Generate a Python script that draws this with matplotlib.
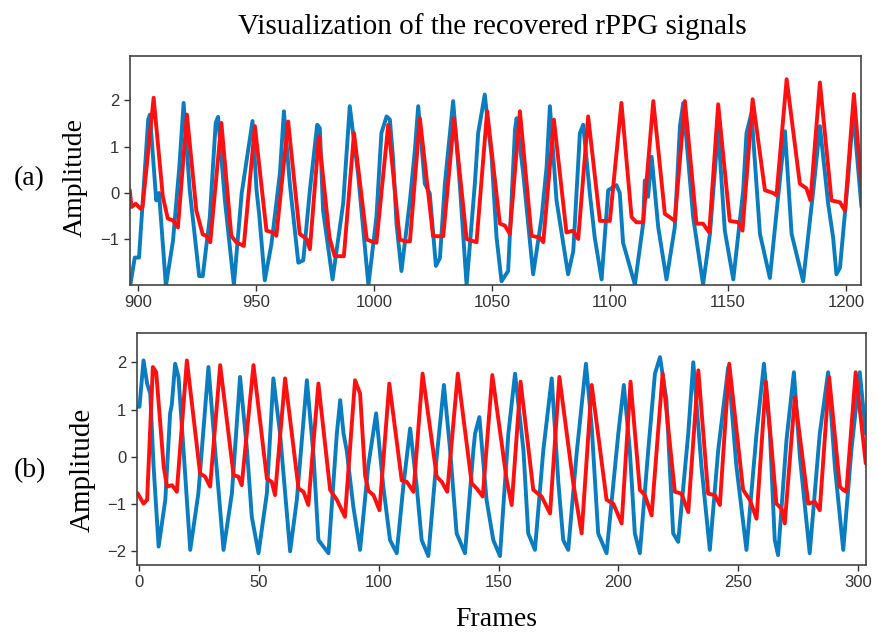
import numpy as np
import matplotlib
matplotlib.use("Agg")
import matplotlib.pyplot as plt

# (a) frames 900-1200 : key points (frame, amplitude)
a_blue_x = [896.6, 898.7, 900.5, 904.4, 905.1, 907.8, 909.0, 911.9, 914.9, 917.6, 919.4, 922.0, 926.0, 927.5,
            930.5, 933.0, 934.0, 936.9, 940.7, 944.0, 948.6, 950.3, 951.4, 953.8, 956.6, 960.2, 961.9, 964.4,
            968.0, 970.1, 972.9, 976.0, 977.1, 978.5, 982.5, 987.0, 989.8, 993.3, 997.7, 1001.1, 1003.2, 1005.4,
            1006.8, 1008.2, 1009.6, 1011.7, 1015.3, 1017.4, 1018.8, 1021.6, 1023.7, 1026.3, 1028.0, 1030.1,
            1033.6, 1036.4, 1039.3, 1042.8, 1044.2, 1047.0, 1049.9, 1052.0, 1054.1, 1056.9, 1059.8, 1060.5,
            1063.3, 1067.5, 1071.1, 1073.2, 1074.6, 1077.4, 1082.3, 1084.5, 1087.3, 1088.7, 1091.5, 1093.6,
            1096.5, 1099.3, 1102.8, 1104.2, 1105.6, 1110.6, 1114.1, 1114.8, 1116.2, 1117.7, 1120.5, 1124.0,
            1127.5, 1129.7, 1131.1, 1135.3, 1139.5, 1142.4, 1145.2, 1145.9, 1148.7, 1152.3, 1156.5, 1157.9,
            1160.0, 1163.6, 1167.8, 1171.3, 1174.2, 1177.0, 1181.9, 1186.2, 1189.0, 1192.5, 1194.6, 1196.0,
            1197.5, 1201.0, 1203.1, 1206.6]
a_blue_y = [-2.05, -1.39, -1.39, 1.58, 1.69, -0.16, 0.0, -2.0, -1.03, 0.57, 1.94, 0.06, -1.79, -1.79,
            -0.52, 1.51, 1.64, -0.16, -1.98, -0.01, 1.55, 0.06, -0.45, -1.88, -1.1, 0.42, 1.76, 0.2,
            -1.5, -1.45, 0.06, 1.47, 1.40, -0.38, -1.86, -0.23, 1.87, 0.42, -1.98, -0.52, 1.29, 1.65,
            1.58, 0.71, -0.66, -1.68, -0.16, 0.93, 1.87, 0.2, -0.01, -1.57, -1.4, 0.2,
            1.98, 0.2, -1.98, 0.2, 1.29, 2.12, 0.78, -0.96, -1.9, -1.68, 1.36, 1.61,
            0.42, -1.75, -0.52, 0.56, 1.87, -0.16, -1.75, -1.25, 1.29, 1.47, 0.0, -0.96,
            -1.86, 0.06, 0.17, 0.0, -1.07, -1.97, -0.66, 0.27, -0.08, 0.78, -0.74, -1.86,
            -0.74, 1.44, 1.94, -0.52, -1.97, -0.88, 0.93, 1.36, -0.81, -1.86, 0.06, 1.29,
            1.72, -0.88, -1.83, -0.08, 1.33, -0.88, -1.9, 0.06, 1.44, -0.23, -0.96, -1.75,
            -1.61, 0.35, 1.76, -0.3]

a_red_x = [896.6, 897.3, 899.1, 901.2, 902.0, 906.7, 910.6, 912.7, 914.9, 917.0, 920.8, 924.8, 927.5, 929.0,
           930.7, 935.4, 939.6, 941.7, 944.9, 949.6, 954.5, 957.3, 958.7, 963.7, 968.6, 971.5, 972.9, 976.7,
           981.2, 983.4, 987.3, 991.6, 997.0, 999.0, 1001.1, 1006.1, 1011.0, 1013.1, 1015.3, 1019.5, 1025.1,
           1029.4, 1034.0, 1039.3, 1043.5, 1048.0, 1053.4, 1055.5, 1057.6, 1061.9, 1066.8, 1070.3, 1071.8,
           1076.3, 1081.6, 1084.4, 1086.6, 1090.8, 1095.8, 1098.6, 1100.0, 1104.9, 1109.2, 1111.3, 1114.1,
           1118.4, 1123.3, 1125.4, 1127.5, 1131.8, 1136.7, 1139.5, 1142.1, 1145.9, 1150.8, 1154.4, 1156.2,
           1160.5, 1165.7, 1169.2, 1170.6, 1174.9, 1180.5, 1183.3, 1185.0, 1189.0, 1193.9, 1197.5, 1199.6,
           1203.4, 1206.6]
a_red_y = [0.06, -0.3, -0.23, -0.34, -0.3, 2.05, -0.08, -0.55, -0.59, -0.74, 1.69, -0.38, -0.89, -0.92,
           -1.06, 1.51, -0.92, -1.06, -1.14, 1.44, -0.81, -0.85, -0.92, 1.54, -0.88, -0.99, -1.21, 1.22,
           -0.96, -1.36, -1.36, 1.29, -1.0, -1.04, -1.07, 1.47, -1.0, -1.04, -1.04, 1.61, -0.93,
           -0.93, 1.61, -0.99, -1.06, 1.76, -0.66, -0.7, -0.88, 1.76, -0.92, -0.96, -1.06,
           1.58, -0.85, -0.81, -0.99, 1.65, -0.6, -0.6, -0.6, 1.94, -0.52, -0.63, -0.63,
           1.98, -0.45, -0.52, -0.6, 1.98, -0.66, -0.66, -0.85, 1.91, -0.6, -0.63, -0.81,
           2.02, 0.06, 0.0, -0.05, 2.45, 0.2, 0.1, -0.16, 2.38, -0.16, -0.2, -0.38,
           2.13, 0.13]

# (b) frames 0-300
b_blue_x = [-0.7, 0.1, 1.8, 3.3, 4.6, 6.0, 8.1, 10.9, 12.9, 13.6, 15.0, 16.4, 18.5, 21.3, 24.7, 28.9, 31.7,
            35.2, 38.7, 42.1, 45.0, 47.0, 49.8, 53.3, 56.0, 58.8, 63.0, 65.8, 70.0, 72.8, 74.8, 79.0, 82.5,
            83.9, 85.3, 86.6, 89.4, 92.2, 95.6, 98.9, 101.9, 104.7, 107.5, 110.3, 113.1, 115.8, 117.9, 120.7,
            124.2, 127.2, 129.8, 132.5, 136.0, 139.5, 140.2, 142.0, 145.0, 147.8, 150.6, 154.1, 156.9, 160.4,
            162.4, 165.2, 168.7, 172.2, 175.0, 177.0, 179.1, 182.6, 186.5, 188.9, 191.6, 195.1, 200.0, 202.3,
            204.8, 206.9, 209.0, 212.5, 215.3, 217.4, 220.1, 222.9, 225.0, 229.2, 231.3, 234.7, 238.2, 241.7,
            245.9, 249.3, 253.5, 257.7, 260.8, 263.3, 265.3, 266.7, 270.2, 273.3, 275.8, 279.9, 284.1, 287.6,
            290.4, 293.9, 297.3, 300.8, 303.3]
b_blue_y = [1.06, 1.06, 2.04, 1.55, 1.34, -0.2, -1.9, -0.91, 0.92, 1.1, 1.97, 1.69, 0.14, -1.97, -0.77, 1.9, 0.14,
            -1.97, -0.77, 1.69, 0.14, -1.27, -2.04, -0.77, 1.66, 0.49, -2.0, -0.91, 1.62, 0.0, -1.76, -2.04, 0.49,
            1.2, 0.49, 0.14, -1.06, -1.97, -0.2, 0.92, -0.63, -1.76, -2.04, -0.6, 0.6, -0.6, -1.76, -2.1,
            0.0, 1.52, 0.14, -1.62, -2.04, 0.14, 0.49, 0.84, -0.91, -1.76, -2.1, 0.49, 1.76, 0.14,
            -1.62, -1.97, 0.14, 1.66, -0.56, -1.76, -1.97, 0.07, 1.97, 0.63, -1.62, -2.04, 0.49, 1.52,
            0.14, -1.62, -2.04, 0.14, 1.76, 2.11, 1.2, -1.62, -1.8, 0.49, 2.0, -0.2, -1.97, 0.14,
            1.9, -0.2, -1.97, 0.49, 1.97, 0.49, -1.76, -2.08, 0.35, 1.79, 0.0, -2.04, 0.49, 1.79,
            -0.2, -1.97, 0.14, 1.79, 0.49]

b_red_x = [-0.7, 1.8, 3.3, 5.7, 7.1, 10.2, 11.6, 13.7, 15.7, 19.9, 25.4, 27.5, 29.6, 33.8, 39.4, 41.4, 42.8,
           47.7, 53.3, 55.3, 56.7, 60.9, 66.5, 68.6, 70.6, 74.8, 79.7, 82.5, 85.9, 90.1, 92.2, 94.3, 95.7,
           97.8, 100.3, 104.4, 109.6, 111.7, 114.5, 118.3, 124.2, 126.3, 128.6, 133.0, 138.8, 140.9, 143.4,
           147.4, 153.4, 155.5, 159.2, 164.5, 168.0, 171.5, 175.4, 181.2, 184.7, 188.9, 195.1, 197.9, 201.4,
           205.1, 209.0, 211.1, 213.9, 218.5, 223.6, 226.4, 229.2, 233.4, 237.5, 240.3, 242.4, 246.3, 252.1,
           254.9, 257.7, 261.6, 266.0, 268.1, 269.5, 273.7, 279.3, 282.0, 284.1, 288.0, 292.5, 293.9, 295.2,
           299.1, 303.3]
b_red_y = [-0.77, -0.99, -0.91, 1.9, 1.79, -0.2, -0.63, -0.6, -0.74, 2.04, -0.35, -0.42, -0.63, 1.94, -0.39, -0.42, -0.6,
           1.94, -0.46, -0.53, -0.81, 1.66, -0.67, -0.74, -1.02, 1.55, -0.7, -0.91, -1.27, 1.62, 1.34, -0.39, -0.72,
           -0.81, -1.13, 1.55, -0.5, -0.53, -0.74, 1.76, -0.42, -0.53, -0.74, 1.76, -0.56, -0.67, -0.84,
           1.73, -0.49, -1.02, 1.59, -0.7, -0.84, -1.2, 1.69, -0.56, -1.62, 1.52, -0.91, -0.99, -1.41,
           1.59, -0.7, -0.81, -1.24, 1.76, -0.74, -0.78, -1.17, 1.83, -0.78, -0.81, -1.02, 1.97, -0.7,
           -0.91, -1.31, 1.59, -0.99, -1.1, -1.41, 1.27, -0.99, -0.95, -1.13, 1.69, -0.63, -0.7, -0.74,
           1.79, -0.14]

a_xticks = [900, 950, 1000, 1050, 1100, 1150, 1200]
a_yticks = [-1, 0, 1, 2]
b_xticks = [0, 50, 100, 150, 200, 250, 300]
b_yticks = [-2, -1, 0, 1, 2]

BLUE = '#0a7dc0'
RED = '#ff1010'
serif = 'Liberation Serif'

fig = plt.figure(figsize=(8.77, 6.33), dpi=100)

def style(ax, xt, yt):
    ax.set_xticks(xt)
    ax.set_yticks(yt)
    ax.tick_params(labelsize=12, colors='#333333', length=4, width=1, direction='out')
    for lab in ax.get_xticklabels() + ax.get_yticklabels():
        lab.set_family('Liberation Sans')
    for s in ax.spines.values():
        s.set_color('#444444')
        s.set_linewidth(1.2)

line_kw = dict(lw=2.8, solid_joinstyle='round', solid_capstyle='round')

ax1 = fig.add_axes([0.148, 0.5498, 0.834, 0.3617])
ax1.plot(a_blue_x, a_blue_y, color=BLUE, **line_kw)
ax1.plot(a_red_x, a_red_y, color=RED, **line_kw)
ax1.set_xlim(896.6, 1206.5)
ax1.set_ylim(-1.98, 2.95)
style(ax1, a_xticks, a_yticks)

ax2 = fig.add_axes([0.156, 0.1074, 0.832, 0.3665])
ax2.plot(b_blue_x, b_blue_y, color=BLUE, **line_kw)
ax2.plot(b_red_x, b_red_y, color=RED, **line_kw)
ax2.set_xlim(-1.0, 303.6)
ax2.set_ylim(-2.29, 2.62)
style(ax2, b_xticks, b_yticks)

fig.text(0.561, 0.958, 'Visualization of the recovered rPPG signals', family=serif,
         fontsize=21, ha='center', va='center')
fig.text(0.033, 0.718, '(a)', family=serif, fontsize=20, ha='center', va='center')
fig.text(0.034, 0.257, '(b)', family=serif, fontsize=20, ha='center', va='center')
fig.text(0.0855, 0.72, 'Amplitude', family=serif, fontsize=20, rotation=90, ha='center', va='center')
fig.text(0.094, 0.257, 'Amplitude', family=serif, fontsize=21, rotation=90, ha='center', va='center')
fig.text(0.566, 0.021, 'Frames', family=serif, fontsize=20, ha='center', va='center')

fig.savefig('out.png', dpi=100)
